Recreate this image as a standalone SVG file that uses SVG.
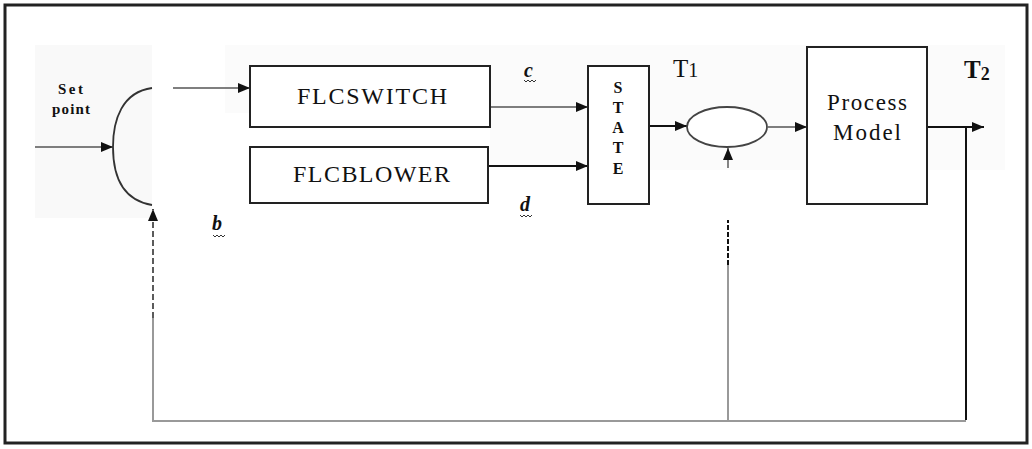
<svg xmlns="http://www.w3.org/2000/svg" width="1032" height="449" viewBox="0 0 1032 449">
  <defs>
    <marker id="arr" viewBox="0 0 12 10" refX="12" refY="5" markerWidth="12" markerHeight="10" markerUnits="userSpaceOnUse" orient="auto">
      <path d="M0,0 L12,5 L0,10 z" fill="#111"/>
    </marker>
  </defs>
  <style>
    .box { fill: #fff; stroke: #222; stroke-width: 2; }
    .ln { fill: none; stroke: #555; stroke-width: 1.6; }
    .dk { fill: none; stroke: #111; stroke-width: 2; }
    .fb { fill: none; stroke: #999; stroke-width: 2; }
    .lbl { font-family: 'Liberation Serif', 'DejaVu Serif', serif; fill: #111; }
    .it { font-family: 'Liberation Serif', serif; font-style: italic; font-weight: bold; fill: #111; font-size: 20px; }
    .sq { fill: none; stroke: #333; stroke-width: 1; }
  </style>
  <rect x="0" y="0" width="1032" height="449" fill="#fff"/>
  <rect x="35" y="45" width="117" height="173" fill="#f9f9f9"/>
  <rect x="225" y="45" width="780" height="68" fill="#fbfbfb"/>
  <rect x="490" y="113" width="515" height="57" fill="#fbfbfb"/>
  <rect x="5" y="5" width="1022" height="438" fill="none" stroke="#222" stroke-width="3"/>

  <g id="connectors">
    <line class="ln" x1="35" y1="147" x2="113" y2="147" marker-end="url(#arr)"/>
    <line class="ln" x1="173" y1="88" x2="250" y2="88" marker-end="url(#arr)"/>
    <line class="ln" x1="490" y1="107" x2="588" y2="107" stroke="#777" marker-end="url(#arr)"/>
    <line class="dk" x1="488" y1="166" x2="588" y2="166" marker-end="url(#arr)"/>
    <line class="dk" x1="649" y1="126" x2="687" y2="126" marker-end="url(#arr)"/>
    <line class="ln" x1="768" y1="127" x2="807" y2="127" marker-end="url(#arr)"/>
    <line class="dk" x1="927" y1="127" x2="984" y2="127" marker-end="url(#arr)"/>
    <line class="dk" x1="966" y1="127" x2="966" y2="420"/>
    <line class="fb" x1="966" y1="421" x2="152" y2="421"/>
    <line class="fb" x1="153" y1="421" x2="153" y2="318"/>
    <line x1="153" y1="318" x2="153" y2="209" stroke="#333" stroke-width="1.6" stroke-dasharray="6 3" marker-end="url(#arr)"/>
    <line class="fb" x1="728" y1="421" x2="728" y2="265"/>
    <line x1="728" y1="265" x2="728" y2="220" stroke="#111" stroke-width="2" stroke-dasharray="5 2"/>
    <line x1="728" y1="168" x2="728" y2="148" stroke="#333" stroke-width="1.2" marker-end="url(#arr)"/>
  </g>

  <g id="setpoint">
    <text class="lbl" x="58" y="94" font-size="15" font-weight="bold" textLength="25">Set</text>
    <text class="lbl" x="52" y="114" font-size="15" font-weight="bold" textLength="38">point</text>
  </g>

  <g id="sum">
    <path d="M152,88 C122,92 113,120 113,147 C113,175 122,200 152,205" fill="none" stroke="#333" stroke-width="1.8"/>
  </g>

  <g id="flcswitch">
    <rect class="box" x="250" y="66" width="240" height="61"/>
    <text class="lbl" x="297" y="104" font-size="24" textLength="150" lengthAdjust="spacing">FLCSWITCH</text>
  </g>

  <g id="flcblower">
    <rect class="box" x="250" y="147" width="238" height="56"/>
    <text class="lbl" x="293" y="182" font-size="24" textLength="157" lengthAdjust="spacing">FLCBLOWER</text>
  </g>

  <g id="state">
    <rect class="box" x="588" y="66" width="61" height="138"/>
    <g class="lbl" font-size="16" font-weight="bold" text-anchor="middle">
      <text x="618" y="93">S</text>
      <text x="618" y="113">T</text>
      <text x="618" y="133">A</text>
      <text x="618" y="153">T</text>
      <text x="618" y="174">E</text>
    </g>
  </g>

  <g id="mixer">
    <ellipse cx="727" cy="127" rx="40" ry="20" fill="#fff" stroke="#444" stroke-width="1.8"/>
  </g>

  <g id="process">
    <rect class="box" x="807" y="47" width="120" height="157"/>
    <text class="lbl" x="827" y="110" font-size="23" textLength="80">Process</text>
    <text class="lbl" x="833" y="140" font-size="23" textLength="68">Model</text>
  </g>

  <g id="labels">
    <text class="lbl" x="673" y="77" font-size="25">T<tspan font-size="20">1</tspan></text>
    <text class="lbl" x="964" y="78" font-size="25" font-weight="bold">T<tspan font-size="18" dy="2">2</tspan></text>
    <text class="it" x="212" y="230">b</text>
    <path class="sq" d="M213,235 l2,2 l2,-2 l2,2 l2,-2 l2,2 l2,-2"/>
    <text class="it" x="524" y="77" font-size="18">c</text>
    <path class="sq" d="M524,80 l2,2 l2,-2 l2,2 l2,-2 l2,2 l2,-2"/>
    <text class="it" x="520" y="211">d</text>
    <path class="sq" d="M520,215 l2,2 l2,-2 l2,2 l2,-2 l2,2 l2,-2"/>
  </g>
</svg>
